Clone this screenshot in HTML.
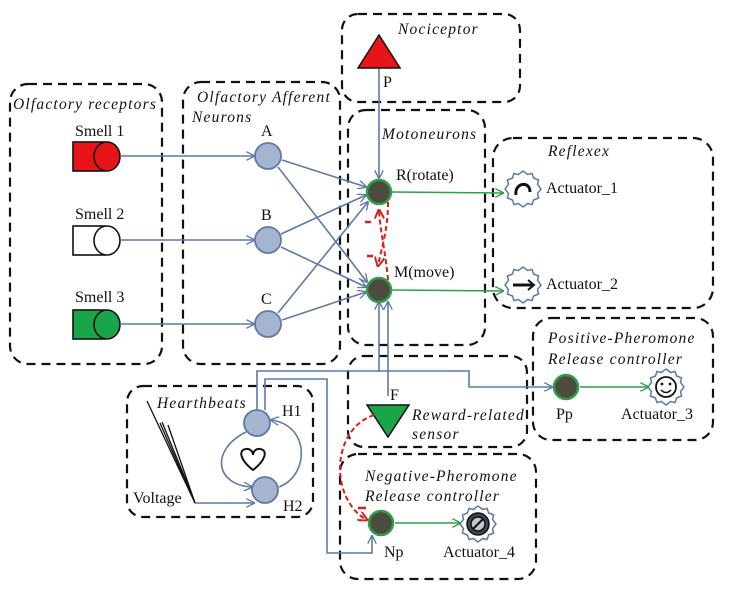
<!DOCTYPE html>
<html><head><meta charset="utf-8"><style>
html,body{margin:0;padding:0;background:#fff;}
svg{display:block;}
text{font-family:"Liberation Serif",serif;font-size:16px;fill:#111;}
.it{font-style:italic;letter-spacing:1.2px;font-size:15.5px;}
</style></head><body>
<svg width="730" height="591" viewBox="0 0 730 591" xmlns="http://www.w3.org/2000/svg">
<defs>
<marker id="ab" viewBox="0 0 10 10" refX="9" refY="5" markerWidth="9" markerHeight="9" orient="auto" markerUnits="userSpaceOnUse"><path d="M0,0 L10,5 L0,10" fill="none" stroke="#5d7aa6" stroke-width="1.5"/></marker>
<marker id="ag" viewBox="0 0 10 10" refX="9" refY="5" markerWidth="9" markerHeight="9" orient="auto" markerUnits="userSpaceOnUse"><path d="M0,0 L10,5 L0,10" fill="none" stroke="#2e9e4a" stroke-width="1.5"/></marker>
<marker id="ar" viewBox="0 0 10 10" refX="9" refY="5" markerWidth="10" markerHeight="10" orient="auto" markerUnits="userSpaceOnUse"><path d="M0,0 L10,5 L0,10" fill="none" stroke="#d42020" stroke-width="2"/></marker>
<g id="gear"><polygon points="0,-18 4.7,-14.5 9,-15.6 10.6,-11 15.6,-9 14.5,-4.7 18,0 14.5,4.7 15.6,9 10.6,11 9,15.6 4.7,14.5 0,18 -4.7,14.5 -9,15.6 -10.6,11 -15.6,9 -14.5,4.7 -18,0 -14.5,-4.7 -15.6,-9 -10.6,-11 -9,-15.6 -4.7,-14.5" fill="#fff" stroke="#5d7aa6" stroke-width="1.5"/></g>
</defs>
<g fill="none" stroke="#111" stroke-width="2.2" stroke-dasharray="9,6">
<rect x="10" y="84" width="152" height="280" rx="18"/>
<rect x="183" y="82" width="157" height="282" rx="18"/>
<rect x="342" y="14" width="178" height="88" rx="16"/>
<rect x="348" y="110" width="137" height="235" rx="18"/>
<rect x="493" y="138" width="220" height="170" rx="20"/>
<rect x="533" y="318" width="180" height="122" rx="18"/>
<rect x="348" y="356" width="179" height="91" rx="16"/>
<rect x="340" y="454" width="196" height="125" rx="18"/>
<rect x="127" y="386" width="186" height="131" rx="16"/>
</g>
<g>
<text x="13" y="109" class="it">Olfactory receptors</text>
<text x="197" y="102" class="it">Olfactory Afferent</text>
<text x="192" y="122" class="it">Neurons</text>
<text x="398" y="34" class="it">Nociceptor</text>
<text x="382" y="139" class="it">Motoneurons</text>
<text x="548" y="156" class="it">Reflexex</text>
<text x="548" y="343" class="it">Positive-Pheromone</text>
<text x="548" y="364" class="it">Release controller</text>
<text x="412" y="420" class="it">Reward-related</text>
<text x="412" y="439" class="it">sensor</text>
<text x="365" y="481" class="it">Negative-Pheromone</text>
<text x="365" y="501" class="it">Release controller</text>
<text x="157" y="408" class="it">Hearthbeats</text>
</g>
<text x="75" y="136">Smell 1</text>
<text x="75" y="219">Smell 2</text>
<text x="75" y="302">Smell 3</text>
<g stroke="#111" stroke-width="1.6">
<rect x="73" y="142" width="32" height="29" fill="#e8141c"/><ellipse cx="107" cy="156.5" rx="13" ry="14.5" fill="#e8141c"/>
<rect x="73" y="226" width="32" height="29" fill="#fff"/><ellipse cx="107" cy="240.5" rx="13" ry="14.5" fill="#fff"/>
<rect x="73" y="310" width="32" height="29" fill="#1aa54a"/><ellipse cx="107" cy="324.5" rx="13" ry="14.5" fill="#1aa54a"/>
</g>
<g stroke="#5d7aa6" stroke-width="1.6" fill="none" marker-end="url(#ab)">
<line x1="120" y1="156" x2="254" y2="156"/>
<line x1="120" y1="240" x2="254" y2="240"/>
<line x1="120" y1="324" x2="254" y2="324"/>
<line x1="282" y1="160" x2="366" y2="187"/>
<line x1="278" y1="167" x2="367" y2="282"/>
<line x1="281" y1="234" x2="366" y2="195"/>
<line x1="281" y1="247" x2="366" y2="287"/>
<line x1="278" y1="313" x2="368" y2="202"/>
<line x1="282" y1="320" x2="366" y2="292"/>
<line x1="379" y1="68" x2="379" y2="178"/>
<polyline points="257,410 257,371 379,371 379,302"/>
<polyline points="388,396 388,302"/>
<polyline points="379,371 469,371 469,387 552,387"/>
<polyline points="265,410 265,379 327,379 327,553 372,553 372,536"/>
<line x1="195" y1="503" x2="254" y2="503"/>
<path d="M246,432 C210,450 215,485 252,487"/>
<path d="M279,487 C310,475 310,425 271,420"/>
</g>
<g fill="#a5b5cf" stroke="#5d7aa6" stroke-width="1.8">
<circle cx="268" cy="156" r="13"/><circle cx="268" cy="240" r="13"/><circle cx="268" cy="324" r="13"/>
<circle cx="257" cy="423" r="13"/><circle cx="265" cy="490" r="13"/>
</g>
<text x="261" y="136">A</text><text x="261" y="220">B</text><text x="261" y="304">C</text>
<text x="282" y="416">H1</text><text x="283" y="511">H2</text>
<path d="M253,470 C240,460 238,450 246,449 C250,448 253,452 253,455 C253,452 256,448 260,449 C268,450 266,460 253,470 Z" fill="#fff" stroke="#111" stroke-width="2"/>
<g stroke="#111" stroke-width="1.3" fill="none">
<line x1="147" y1="401" x2="195" y2="503"/>
<line x1="160" y1="423" x2="195" y2="503"/>
<line x1="162" y1="422" x2="194" y2="500"/>
<line x1="168" y1="425" x2="195" y2="503"/>
</g>
<text x="133" y="503">Voltage</text>
<polygon points="379,35 400,68 358,68" fill="#e8141c" stroke="#111" stroke-width="1.5"/>
<text x="383" y="87">P</text>
<polygon points="367,405 409,405 388,437" fill="#1aa54a" stroke="#111" stroke-width="1.5"/>
<text x="390" y="400">F</text>
<g stroke="#2e9e4a" stroke-width="1.6" fill="none" marker-end="url(#ag)">
<line x1="392" y1="192" x2="503" y2="193"/>
<line x1="392" y1="290" x2="503" y2="291"/>
<line x1="580" y1="387" x2="648" y2="387"/>
<line x1="395" y1="523" x2="460" y2="523"/>
</g>
<g fill="#4d4a3e" stroke="#2e9e4a" stroke-width="2.5">
<circle cx="379" cy="192" r="12"/><circle cx="379" cy="290" r="12"/>
<circle cx="566" cy="387" r="12"/><circle cx="381" cy="523" r="12"/>
</g>
<text x="396" y="180">R(rotate)</text>
<text x="394" y="277">M(move)</text>
<text x="556" y="419">Pp</text>
<text x="384" y="557">Np</text>
<g stroke="#d42020" stroke-width="2" fill="none" stroke-dasharray="5,3">
<path d="M388,202 C388,230 382,245 378,266" marker-end="url(#ar)"/>
<path d="M388,280 C386,255 380,230 379,210" marker-end="url(#ar)"/>
<path d="M374,415 C330,430 330,500 367,520" marker-end="url(#ar)"/>
</g>
<g stroke="#d42020" stroke-width="2.5">
<line x1="365" y1="222" x2="371" y2="222"/>
<line x1="367" y1="256" x2="373" y2="256"/>
<line x1="358" y1="508" x2="366" y2="508"/>
</g>
<use href="#gear" x="523" y="189"/>
<path d="M516,195 C514,183 530,180 530,192" fill="none" stroke="#111" stroke-width="3"/>
<use href="#gear" x="523" y="285"/>
<path d="M513,285 H532" stroke="#111" stroke-width="3"/><path d="M528,280 L534,285 L528,290" fill="none" stroke="#111" stroke-width="2"/>
<use href="#gear" x="666" y="387"/>
<circle cx="666" cy="387" r="10" fill="none" stroke="#111" stroke-width="1.8"/>
<circle cx="662" cy="384" r="1.4" fill="#111"/><circle cx="670" cy="384" r="1.4" fill="#111"/>
<path d="M661,390 Q666,395 671,390" fill="none" stroke="#111" stroke-width="1.5"/>
<use href="#gear" x="478" y="524"/>
<circle cx="478" cy="524" r="11" fill="#445" stroke="#111" stroke-width="1.5"/>
<circle cx="478" cy="524" r="7" fill="#bcc" stroke="#111" stroke-width="1.5"/>
<line x1="473" y1="529" x2="483" y2="519" stroke="#111" stroke-width="2"/>
<text x="546" y="193">Actuator_1</text>
<text x="546" y="289">Actuator_2</text>
<text x="621" y="419">Actuator_3</text>
<text x="443" y="557">Actuator_4</text>
</svg>
</body></html>
